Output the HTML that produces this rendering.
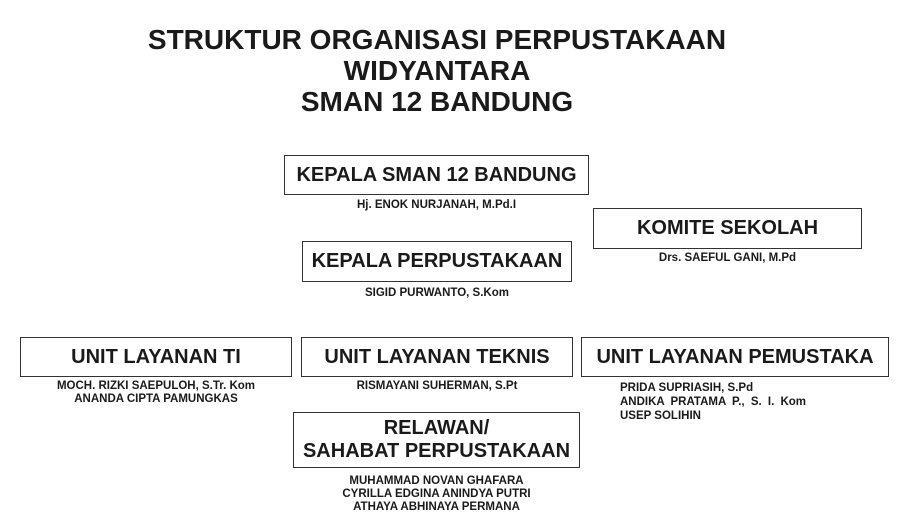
<!DOCTYPE html>
<html><head><meta charset="utf-8"><style>
html,body{margin:0;padding:0;background:#fff;}
body{width:910px;height:532px;position:relative;overflow:hidden;font-family:"Liberation Sans",Arial,sans-serif;font-weight:bold;color:#1a1a1a;}
.t{position:absolute;left:0;width:874px;text-align:center;font-size:28px;line-height:31px;}
.b{position:absolute;border:1px solid #333;box-sizing:border-box;display:flex;align-items:center;justify-content:center;text-align:center;font-size:20px;line-height:23px;white-space:nowrap;}
.n{position:absolute;text-align:center;font-size:11.5px;line-height:13px;white-space:nowrap;}
</style></head><body>
<div class="t" style="top:24px">STRUKTUR ORGANISASI PERPUSTAKAAN<br>WIDYANTARA<br>SMAN 12 BANDUNG</div>

<div class="b" style="left:284px;top:155px;width:305px;height:40px">KEPALA SMAN 12 BANDUNG</div>
<div class="n" style="left:284px;width:305px;top:199px">Hj. ENOK NURJANAH, M.Pd.I</div>

<div class="b" style="left:593px;top:208px;width:269px;height:41px">KOMITE SEKOLAH</div>
<div class="n" style="left:593px;width:269px;top:252px">Drs. SAEFUL GANI, M.Pd</div>

<div class="b" style="left:302px;top:241px;width:270px;height:41px">KEPALA PERPUSTAKAAN</div>
<div class="n" style="left:302px;width:270px;top:287px">SIGID PURWANTO, S.Kom</div>

<div class="b" style="left:20px;top:337px;width:272px;height:40px">UNIT LAYANAN TI</div>
<div class="n" style="left:20px;width:272px;top:380px">MOCH. RIZKI SAEPULOH, S.Tr. Kom<br>ANANDA CIPTA PAMUNGKAS</div>

<div class="b" style="left:301px;top:337px;width:272px;height:40px">UNIT LAYANAN TEKNIS</div>
<div class="n" style="left:301px;width:272px;top:380px">RISMAYANI SUHERMAN, S.Pt</div>

<div class="b" style="left:581px;top:337px;width:308px;height:40px">UNIT LAYANAN PEMUSTAKA</div>
<div class="n" style="left:620px;text-align:left;top:381px;line-height:14px">PRIDA SUPRIASIH, S.Pd<br><span style="word-spacing:3px">ANDIKA PRATAMA P., S. I. Kom</span><br>USEP SOLIHIN</div>

<div class="b" style="left:293px;top:412px;width:287px;height:56px">RELAWAN/<br>SAHABAT PERPUSTAKAAN</div>
<div class="n" style="left:293px;width:287px;top:475px">MUHAMMAD NOVAN GHAFARA<br>CYRILLA EDGINA ANINDYA PUTRI<br>ATHAYA ABHINAYA PERMANA</div>
</body></html>
